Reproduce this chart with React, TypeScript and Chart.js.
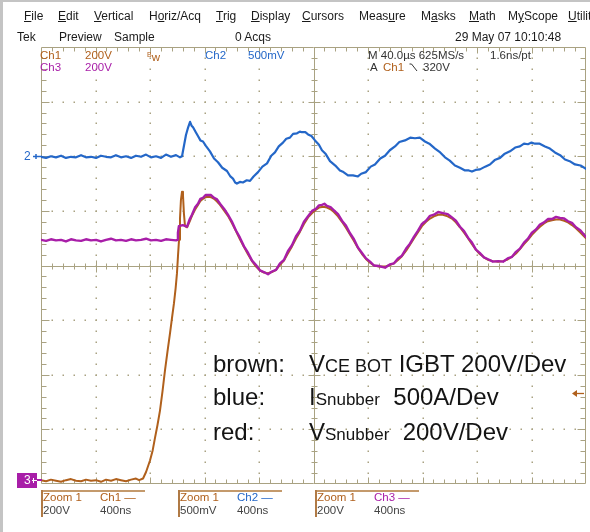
import React, { useEffect, useRef } from "react";
import { Chart, registerables } from "chart.js";

Chart.register(...registerables);

// ---------------- data (time in ns, value in screen divisions) ----------------
const timeMinNs = 0;
const timeMaxNs = 4000; // 10 div x 400 ns
const divMin = -4;
const divMax = 4;
const divTimeNs = 400;

const ch2MarkerDiv = 2.0;
const ch3MarkerDiv = -3.92;
const triggerLevelDiv = -2.34;

// Ch2 (blue) — snubber current
const ch2Trace: [number, number][] = [
  [0, 1.99], [37, 1.97], [73, 2.0], [110, 1.98], [147, 2.01], [183, 1.97], [220, 1.99], [257, 1.98],
  [294, 2.02], [330, 1.98], [367, 1.99], [404, 1.97], [440, 2.01], [477, 1.99], [514, 1.98], [550, 2.02],
  [587, 1.98], [624, 2.0], [661, 1.97], [697, 2.01], [734, 1.99], [771, 2.03], [807, 1.98], [844, 2.0],
  [881, 1.97], [917, 2.03], [954, 1.99], [991, 2.02], [1020, 1.98], [1035, 2.0],
  [1050, 2.2], [1064, 2.39], [1080, 2.53], [1094, 2.63], [1105, 2.56], [1116, 2.53], [1134, 2.45],
  [1152, 2.37], [1170, 2.29], [1189, 2.27], [1210, 2.19], [1240, 2.09], [1270, 1.96], [1299, 1.89],
  [1330, 1.79], [1365, 1.73], [1390, 1.63], [1409, 1.59], [1425, 1.52], [1438, 1.5], [1460, 1.53],
  [1482, 1.52], [1510, 1.56], [1534, 1.55], [1560, 1.63], [1593, 1.71], [1625, 1.81], [1659, 1.87],
  [1690, 2.01], [1717, 2.07], [1745, 2.18], [1776, 2.25], [1800, 2.32], [1827, 2.34], [1850, 2.41],
  [1879, 2.42], [1900, 2.45], [1915, 2.44], [1940, 2.44], [1960, 2.4], [1985, 2.37], [2011, 2.29],
  [2040, 2.21], [2062, 2.11], [2090, 2.04], [2121, 1.91], [2160, 1.83], [2194, 1.74], [2220, 1.71],
  [2253, 1.65], [2290, 1.65], [2326, 1.63], [2350, 1.68], [2385, 1.71], [2420, 1.81], [2451, 1.85],
  [2490, 1.96], [2525, 2.01], [2560, 2.11], [2598, 2.18], [2630, 2.26], [2671, 2.29], [2710, 2.34],
  [2745, 2.33], [2780, 2.34], [2818, 2.27], [2850, 2.23], [2892, 2.14], [2930, 2.07], [2965, 1.98],
  [3000, 1.92], [3038, 1.83], [3075, 1.79], [3112, 1.74], [3140, 1.74], [3163, 1.72], [3190, 1.75],
  [3222, 1.76], [3260, 1.81], [3295, 1.85], [3330, 1.93], [3369, 1.97], [3400, 2.04], [3442, 2.09],
  [3480, 2.16], [3515, 2.18], [3545, 2.23], [3574, 2.22], [3600, 2.25], [3626, 2.23], [3660, 2.23],
  [3699, 2.18], [3735, 2.14], [3772, 2.07], [3810, 2.02], [3846, 1.94], [3880, 1.91], [3919, 1.85],
  [3960, 1.83], [4000, 1.77],
];

// Ch3 (purple) — snubber voltage
const ch3Trace: [number, number][] = [
  [0, 0.47], [37, 0.45], [73, 0.48], [110, 0.46], [147, 0.47], [183, 0.44], [220, 0.48], [257, 0.46],
  [294, 0.45], [330, 0.48], [367, 0.46], [404, 0.47], [440, 0.44], [477, 0.47], [514, 0.49], [550, 0.46],
  [587, 0.47], [624, 0.45], [661, 0.48], [697, 0.46], [734, 0.47], [771, 0.49], [807, 0.46], [844, 0.47],
  [881, 0.45], [917, 0.48], [954, 0.47], [991, 0.46], [1000, 0.47],
  [1005, 0.6], [1012, 0.72], [1040, 0.74], [1072, 0.71], [1090, 0.84], [1108, 0.93], [1130, 1.06],
  [1152, 1.13], [1170, 1.22], [1189, 1.24], [1208, 1.29], [1226, 1.29], [1248, 1.29], [1270, 1.24],
  [1292, 1.21], [1314, 1.13], [1343, 1.04], [1372, 0.93], [1400, 0.81], [1431, 0.64], [1460, 0.51],
  [1490, 0.35], [1520, 0.23], [1549, 0.09], [1578, 0.01], [1607, -0.09], [1636, -0.12], [1666, -0.16],
  [1695, -0.11], [1725, -0.08], [1754, 0.04], [1783, 0.1], [1812, 0.26], [1842, 0.37], [1871, 0.53],
  [1901, 0.64], [1930, 0.8], [1960, 0.9], [1990, 1.0], [2018, 1.04], [2040, 1.1], [2062, 1.11],
  [2080, 1.13], [2099, 1.09], [2125, 1.07], [2150, 1.01], [2180, 0.94], [2209, 0.82], [2238, 0.73],
  [2268, 0.59], [2297, 0.48], [2326, 0.33], [2356, 0.23], [2385, 0.13], [2415, 0.07], [2444, 0.0],
  [2480, -0.01], [2525, -0.04], [2560, 0.02], [2591, 0.04], [2620, 0.13], [2649, 0.18], [2680, 0.31],
  [2708, 0.4], [2738, 0.53], [2767, 0.64], [2796, 0.76], [2826, 0.82], [2855, 0.91], [2884, 0.93],
  [2915, 0.98], [2950, 0.96], [2985, 0.94], [3016, 0.88], [3045, 0.82], [3075, 0.71], [3105, 0.63],
  [3134, 0.51], [3163, 0.42], [3192, 0.29], [3220, 0.23], [3251, 0.15], [3285, 0.11], [3317, 0.07],
  [3355, 0.08], [3391, 0.07], [3425, 0.13], [3457, 0.16], [3486, 0.25], [3515, 0.31], [3545, 0.42],
  [3574, 0.49], [3603, 0.6], [3633, 0.66], [3662, 0.75], [3692, 0.79], [3720, 0.85], [3750, 0.85],
  [3780, 0.89], [3809, 0.87], [3840, 0.86], [3868, 0.81], [3897, 0.78], [3926, 0.7], [3960, 0.64],
  [4000, 0.52],
];

// Ch1 (brown) — VCE of bottom IGBT
const ch1Trace: [number, number][] = [
  [0, -3.93], [37, -3.95], [73, -3.92], [110, -3.94], [147, -3.96], [183, -3.93], [220, -3.91],
  [257, -3.94], [294, -3.95], [330, -3.92], [367, -3.94], [404, -3.93], [440, -3.96], [477, -3.92],
  [514, -3.94], [550, -3.91], [587, -3.93], [624, -3.95], [661, -3.92], [697, -3.9], [720, -3.93],
  [749, -3.9],
  [771, -3.78], [800, -3.57], [820, -3.38], [837, -3.15], [855, -2.92], [873, -2.66], [892, -2.3],
  [910, -1.92], [928, -1.58], [947, -1.24], [962, -0.95], [976, -0.69], [988, -0.42], [998, -0.14],
  [1006, 0.2], [1013, 0.47], [1020, 0.85], [1027, 1.2], [1035, 1.35], [1042, 1.29], [1049, 0.95],
  [1057, 0.72], [1072, 0.7], [1090, 0.8], [1108, 0.91],
  [1130, 1.02], [1152, 1.11], [1170, 1.18], [1189, 1.22], [1208, 1.25], [1226, 1.26], [1248, 1.25],
  [1270, 1.22], [1292, 1.17], [1314, 1.11], [1343, 1.01], [1372, 0.91], [1400, 0.78], [1431, 0.63],
  [1460, 0.48], [1490, 0.34], [1520, 0.2], [1549, 0.08], [1578, -0.02], [1607, -0.09], [1636, -0.13],
  [1666, -0.14], [1695, -0.12], [1725, -0.08], [1754, 0.01], [1783, 0.09], [1812, 0.22], [1842, 0.35],
  [1871, 0.49], [1901, 0.62], [1930, 0.76], [1960, 0.88], [1990, 0.96], [2018, 1.02], [2040, 1.06],
  [2062, 1.07], [2080, 1.07], [2099, 1.06], [2125, 1.03], [2150, 0.98], [2180, 0.9], [2209, 0.8],
  [2238, 0.69], [2268, 0.57], [2297, 0.45], [2326, 0.32], [2356, 0.21], [2385, 0.12], [2415, 0.05],
  [2444, 0.0], [2480, -0.02], [2525, -0.02], [2560, 0.01], [2591, 0.04], [2620, 0.1], [2649, 0.17],
  [2680, 0.27], [2708, 0.38], [2738, 0.5], [2767, 0.61], [2796, 0.72], [2826, 0.8], [2855, 0.86],
  [2884, 0.9], [2915, 0.93], [2950, 0.93], [2985, 0.9], [3016, 0.86], [3045, 0.79], [3075, 0.7],
  [3105, 0.6], [3134, 0.5], [3163, 0.39], [3192, 0.29], [3220, 0.21], [3251, 0.15], [3285, 0.1],
  [3317, 0.08], [3355, 0.07], [3391, 0.08], [3425, 0.11], [3457, 0.16], [3486, 0.22], [3515, 0.3],
  [3545, 0.39], [3574, 0.47], [3603, 0.56], [3633, 0.64], [3662, 0.71], [3692, 0.77], [3720, 0.81],
  [3750, 0.83], [3780, 0.84], [3809, 0.84], [3840, 0.82], [3868, 0.79], [3897, 0.74], [3926, 0.68],
  [3960, 0.6], [4000, 0.5],
];

// ---------------- text ----------------
const menuItems: [string, number, number][] = [
  ["File", 24, 0], ["Edit", 58, 0], ["Vertical", 94, 0], ["Horiz/Acq", 149, 1], ["Trig", 216, 0],
  ["Display", 251, 0], ["Cursors", 302, 0], ["Measure", 359, 4], ["Masks", 421, 1], ["Math", 469, 0],
  ["MyScope", 508, 1], ["Utilit", 568, 0],
];

const C1 = "#b0601c";
const C2 = "#2467c8";
const C3 = "#a81ea8";
const GRAT = "#a9a282";
const FONT = "'Liberation Sans', Arial, sans-serif";

const graticulePlugin = {
  id: "graticule",
  beforeDatasetsDraw(chart: any) {
    const { ctx } = chart;
    const xs = chart.scales.x;
    const ys = chart.scales.y;
    const px = (t: number) => xs.getPixelForValue(t);
    const py = (v: number) => ys.getPixelForValue(v);
    const L = Math.round(px(timeMinNs)) + 0.5;
    const R = Math.round(px(timeMaxNs)) - 0.5;
    const T = Math.round(py(divMax)) + 0.5;
    const B = Math.round(py(divMin)) - 0.5;
    ctx.save();
    // dotted division lines
    ctx.fillStyle = GRAT;
    for (let i = 1; i < 10; i++) {
      if (i === 5) continue;
      const X = Math.round(px(i * divTimeNs));
      for (let k = 1; k < 40; k++) {
        const Y = Math.round(py(divMin + k * 0.2));
        ctx.fillRect(X - 0.5, Y - 0.5, 1.5, 1.5);
      }
    }
    for (let j = -3; j <= 3; j++) {
      if (j === 0) continue;
      const Y = Math.round(py(j));
      for (let k = 1; k < 50; k++) {
        const X = Math.round(px(k * divTimeNs / 5));
        ctx.fillRect(X - 0.5, Y - 0.5, 1.5, 1.5);
      }
    }
    ctx.strokeStyle = GRAT;
    ctx.lineWidth = 1;
    ctx.beginPath();
    // frame
    ctx.rect(L, T, R - L, B - T);
    // center lines
    const CX = Math.round(px((timeMinNs + timeMaxNs) / 2)) + 0.5;
    const CY = Math.round(py(0)) + 0.5;
    ctx.moveTo(L, CY); ctx.lineTo(R, CY);
    ctx.moveTo(CX, T); ctx.lineTo(CX, B);
    // ticks along x
    for (let k = 1; k < 50; k++) {
      const X = Math.round(px(k * divTimeNs / 5)) + 0.5;
      const major = k % 5 === 0;
      ctx.moveTo(X, T); ctx.lineTo(X, T + (major ? 6 : 4));
      ctx.moveTo(X, B); ctx.lineTo(X, B - (major ? 6 : 4));
      const h = major ? 6 : 3;
      ctx.moveTo(X, CY - h); ctx.lineTo(X, CY + h);
    }
    // ticks along y
    for (let k = 1; k < 40; k++) {
      const Y = Math.round(py(divMin + k * 0.2)) + 0.5;
      const major = k % 5 === 0;
      ctx.moveTo(L, Y); ctx.lineTo(L + (major ? 8 : 5), Y);
      ctx.moveTo(R, Y); ctx.lineTo(R - (major ? 8 : 5), Y);
      const h = major ? 6 : 3;
      ctx.moveTo(CX - h, Y); ctx.lineTo(CX + h, Y);
    }
    ctx.stroke();
    ctx.restore();
  },
  afterDatasetsDraw(chart: any) {
    const { ctx } = chart;
    const xs = chart.scales.x;
    const ys = chart.scales.y;
    const L = Math.round(xs.getPixelForValue(timeMinNs));
    const R = Math.round(xs.getPixelForValue(timeMaxNs));
    ctx.save();
    // Ch2 marker
    const y2 = Math.round(ys.getPixelForValue(ch2MarkerDiv)) + 0.5;
    ctx.fillStyle = C2;
    ctx.strokeStyle = C2;
    ctx.font = `12px ${FONT}`;
    ctx.textBaseline = "middle";
    ctx.fillText("2", L - 17, y2 + 0.5);
    ctx.lineWidth = 1.5;
    ctx.beginPath();
    ctx.moveTo(L - 8, y2); ctx.lineTo(L + 1, y2);
    ctx.moveTo(L - 5, y2 - 2.5); ctx.lineTo(L - 5, y2 + 2.5);
    ctx.stroke();
    // Ch3 marker box
    const y3 = Math.round(ys.getPixelForValue(ch3MarkerDiv));
    ctx.fillStyle = C3;
    ctx.fillRect(L - 24, y3 - 7, 20, 15);
    ctx.fillRect(L - 5, y3 - 1, 6, 2);
    ctx.fillStyle = "#ffffff";
    ctx.fillText("3", L - 17, y3 + 0.5);
    ctx.strokeStyle = "#ffffff";
    ctx.lineWidth = 1;
    ctx.beginPath();
    ctx.moveTo(L - 9, y3 + 0.5); ctx.lineTo(L - 4, y3 + 0.5);
    ctx.moveTo(L - 7.5, y3 - 2); ctx.lineTo(L - 7.5, y3 + 3);
    ctx.stroke();
    // trigger level arrow (Ch1)
    const yt = Math.round(ys.getPixelForValue(triggerLevelDiv)) + 0.5;
    ctx.strokeStyle = C1;
    ctx.fillStyle = C1;
    ctx.lineWidth = 1.3;
    ctx.beginPath();
    ctx.moveTo(R - 12, yt); ctx.lineTo(R - 2, yt);
    ctx.stroke();
    ctx.beginPath();
    ctx.moveTo(R - 14, yt); ctx.lineTo(R - 9, yt - 3.5); ctx.lineTo(R - 9, yt + 3.5); ctx.closePath();
    ctx.fill();
    ctx.restore();
  },
};

function Txt(props: { x: number; y: number; c?: string; s?: number; children: React.ReactNode }) {
  const s = props.s ?? 12;
  return (
    <div
      style={{
        position: "absolute",
        left: props.x,
        top: props.y - Math.round(s * 0.6),
        fontSize: s,
        lineHeight: `${Math.round(s * 1.2)}px`,
        color: props.c ?? "#1a1a1a",
        whiteSpace: "nowrap",
        fontFamily: FONT,
      }}
    >
      {props.children}
    </div>
  );
}

function MenuItem({ label, x, u }: { label: string; x: number; u: number }) {
  return (
    <Txt x={x} y={16} s={12}>
      {label.slice(0, u)}
      <span style={{ textDecoration: "underline" }}>{label[u]}</span>
      {label.slice(u + 1)}
    </Txt>
  );
}

function ZoomBox({ x, ch, chColor, scale }: { x: number; ch: string; chColor: string; scale: string }) {
  return (
    <>
      <div style={{ position: "absolute", left: x, top: 490, width: 104, height: 1.5, background: "#c49a6c" }} />
      <div style={{ position: "absolute", left: x, top: 490, width: 1.5, height: 27, background: "#b07a45" }} />
      <Txt x={x + 2} y={497} s={11.5} c={C1}>Zoom 1</Txt>
      <Txt x={x + 59} y={497} s={11.5} c={chColor}>{ch} —</Txt>
      <Txt x={x + 2} y={510} s={11.5} c="#444">{scale}</Txt>
      <Txt x={x + 59} y={510} s={11.5} c="#444">400ns</Txt>
    </>
  );
}

const annoStyle = (top: number): React.CSSProperties => ({
  position: "absolute",
  top,
  fontSize: 24,
  lineHeight: "24px",
  fontFamily: FONT,
  color: "#141414",
  whiteSpace: "nowrap",
});

export default function App() {
  const ref = useRef<HTMLCanvasElement | null>(null);
  useEffect(() => {
    if (!ref.current) return;
    const toPts = (a: [number, number][]) => a.map(([x, y]) => ({ x, y }));
    const chart = new Chart(ref.current, {
      type: "scatter",
      data: {
        datasets: [
          { label: "Ch3", data: toPts(ch3Trace), showLine: true, borderColor: C3, borderWidth: 2.4, pointRadius: 0, order: 0 },
          { label: "Ch1", data: toPts(ch1Trace), showLine: true, borderColor: C1, borderWidth: 2, pointRadius: 0, order: 1 },
          { label: "Ch2", data: toPts(ch2Trace), showLine: true, borderColor: C2, borderWidth: 2.2, pointRadius: 0, order: 2 },
        ],
      },
      options: {
        animation: false,
        responsive: false,
        devicePixelRatio: 1,
        layout: { padding: { left: 41, right: 4, top: 47, bottom: 48 } },
        plugins: { legend: { display: false }, tooltip: { enabled: false } },
        scales: {
          x: { type: "linear", min: timeMinNs, max: timeMaxNs, display: false },
          y: { type: "linear", min: divMin, max: divMax, display: false },
        },
        elements: { line: { tension: 0, borderJoinStyle: "round", borderCapStyle: "round" } },
      },
      plugins: [graticulePlugin],
    });
    return () => chart.destroy();
  }, []);

  return (
    <div style={{ position: "fixed", left: 0, top: 0, width: 590, height: 532, background: "#fff", overflow: "hidden" }}>
      <canvas ref={ref} width={590} height={532} style={{ position: "absolute", left: 0, top: 0 }} />
      <div style={{ position: "absolute", left: 0, top: 0, width: 3, height: 532, background: "#c4c4c4" }} />
      <div style={{ position: "absolute", left: 0, top: 0, width: 590, height: 2, background: "#c4c4c4" }} />
      {menuItems.map(([l, x, u]) => (
        <MenuItem key={l} label={l} x={x} u={u} />
      ))}
      <Txt x={17} y={37}>Tek</Txt>
      <Txt x={59} y={37}>Preview</Txt>
      <Txt x={114} y={37}>Sample</Txt>
      <Txt x={235} y={37}>0 Acqs</Txt>
      <Txt x={455} y={37}>29 May 07 10:10:48</Txt>

      <Txt x={40} y={55} s={11.5} c={C1}>Ch1</Txt>
      <Txt x={85} y={55} s={11.5} c={C1}>200V</Txt>
      <Txt x={147} y={55} s={11.5} c={C1}>
        <span style={{ fontSize: 7, verticalAlign: "4px" }}>B</span>w
      </Txt>
      <Txt x={205} y={55} s={11.5} c={C2}>Ch2</Txt>
      <Txt x={248} y={55} s={11.5} c={C2}>500mV</Txt>
      <Txt x={368} y={55} s={11.5} c="#333">M 40.0µs 625MS/s</Txt>
      <Txt x={490} y={55} s={11.5} c="#333">1.6ns/pt</Txt>
      <Txt x={40} y={67} s={11.5} c={C3}>Ch3</Txt>
      <Txt x={85} y={67} s={11.5} c={C3}>200V</Txt>
      <Txt x={370} y={67} s={11.5} c="#333">A</Txt>
      <Txt x={383} y={67} s={11.5} c={C1}>Ch1</Txt>
      <svg style={{ position: "absolute", left: 409, top: 63 }} width={9} height={9}>
        <polyline points="0.5,1 2.5,1 8,8" fill="none" stroke="#333" strokeWidth={1} />
      </svg>
      <Txt x={423} y={67} s={11.5} c="#333">320V</Txt>

      <div style={{ ...annoStyle(352), left: 213 }}>brown:</div>
      <div style={{ ...annoStyle(352), left: 309 }}>
        V<span style={{ fontSize: 18 }}>CE BOT</span> IGBT 200V/Dev
      </div>
      <div style={{ ...annoStyle(385), left: 213 }}>blue:</div>
      <div style={{ ...annoStyle(385), left: 309 }}>
        I<span style={{ fontSize: 17 }}>Snubber</span>&nbsp; 500A/Dev
      </div>
      <div style={{ ...annoStyle(420), left: 213 }}>red:</div>
      <div style={{ ...annoStyle(420), left: 309 }}>
        V<span style={{ fontSize: 17 }}>Snubber</span>&nbsp; 200V/Dev
      </div>

      <ZoomBox x={41} ch="Ch1" chColor={C1} scale="200V" />
      <ZoomBox x={178} ch="Ch2" chColor={C2} scale="500mV" />
      <ZoomBox x={315} ch="Ch3" chColor={C3} scale="200V" />
    </div>
  );
}
